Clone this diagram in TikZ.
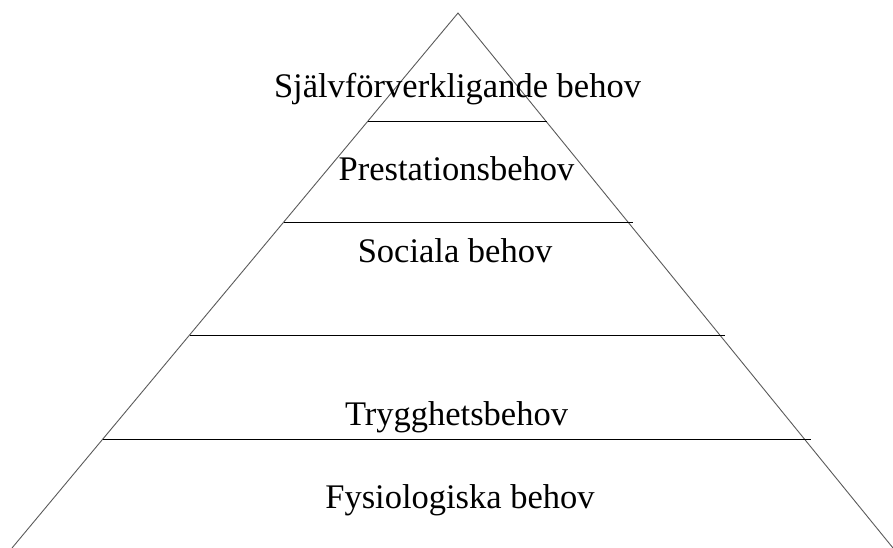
\documentclass[tikz,border=0pt]{standalone}
\usepackage{fontspec}
\setmainfont{Liberation Serif}
\usetikzlibrary{calc}
\definecolor{DG}{RGB}{90,90,90}

\begin{document}
\begin{tikzpicture}[x=1pt, y=-1pt,
  side/.style={draw=DG, line width=0.9pt},
  tier/.style={draw=black, line width=0.9pt},
  lbl/.style={anchor=base, inner sep=0pt, font=\fontsize{34.5}{40}\selectfont}
]
\useasboundingbox (0,0) rectangle (893,548);
\coordinate (top) at (458,13);
\coordinate (bl)  at (12,548);
\coordinate (br)  at (893,548);

\draw[side] (bl) -- (top) -- (br);

\draw[tier] (368,121) -- (547,121);
\draw[tier] (284,222) -- (633,222);
\draw[tier] (190,335) -- (725,335);
\draw[tier] (103,439) -- (811,439);

\node[lbl] (self)  at (457.5,98)  {Självförverkligande behov};
\node[lbl] (prest) at (456.5,180) {Prestationsbehov};
\node[lbl] (soc)   at (455,262)   {Sociala behov};
\node[lbl] (tryg)  at (456.5,425) {Trygghetsbehov};
\node[lbl] (fys)   at (460,508)   {Fysiologiska behov};
\end{tikzpicture}
\end{document}
